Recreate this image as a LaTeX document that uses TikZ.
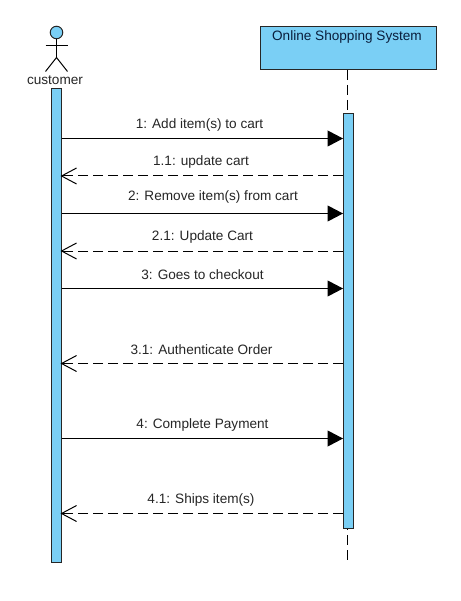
\documentclass[tikz,border=0pt]{standalone}
\usepackage{fontspec}
\setmainfont{Liberation Sans}
\usetikzlibrary{arrows.meta}
\definecolor{barblue}{HTML}{7ACFF5}
\definecolor{titlenavy}{HTML}{0A1E3C}
\tikzset{
  lbl/.style={inner sep=0pt,font=\fontsize{13.6}{15}\selectfont,text=black!85},
  activation/.style={draw=black!85,fill=barblue,line width=1pt,inner sep=0pt,minimum width=10pt},
  objbox/.style={draw=black!85,fill=barblue,line width=1pt,inner sep=0pt},
  limb/.style={draw=black,line width=1pt},
  callmsg/.style={draw=black,line width=1pt,-{Triangle[length=15.5pt,width=16pt]}},
  retmsg/.style={draw=black,line width=1pt,dash pattern=on 10pt off 5pt,shorten >=-1.5pt,-{Straight Barb[length=15pt,width=16pt,line width=1pt]}},
  lifeline/.style={draw=black,line width=1pt,dash pattern=on 10pt off 5pt},
}
\begin{document}
\begin{tikzpicture}[x=1pt,y=-1pt]
\useasboundingbox (0,0) rectangle (460,601);
\fill[white] (0,0) rectangle (460,601);
% actor
\node[circle,draw=black!85,fill=barblue,line width=1pt,minimum size=12.5pt,inner sep=0pt] (head) at (56.5,32.5) {};
\coordinate (hip) at (56.5,57.5);
\coordinate (armL) at (45.5,46);
\coordinate (armR) at (67.5,46);
\coordinate (footL) at (45.5,71.5);
\coordinate (footR) at (67.5,71.5);
\draw[limb] (head.south) -- (hip);
\draw[limb] (armL) -- (armR);
\draw[limb] (footL) -- (hip) -- (footR);
\node[lbl] (customer) at (55,80.5) {customer};
% object
\node[objbox,minimum width=176pt,minimum height=43pt] (sys) at (348.5,48) {};
\node[lbl,text=titlenavy] (systitle) at (347,36.5) {Online Shopping System};
\coordinate (lifeend) at (347.5,561);
\draw[lifeline] (sys.south -| lifeend) -- (lifeend);
% activations
\node[activation,minimum height=474pt] (cbar) at (56.5,325.3) {};
\node[activation,minimum height=415pt] (sbar) at (348.5,321) {};
% messages
\foreach \nm/\yy in {a/138.5,b/176,c/213.5,d/251,e/288.5,f/363.5,g/438.5,h/513.5}
  \coordinate (m\nm) at (200,\yy);
\draw[callmsg] (cbar.east |- ma) -- (sbar.west |- ma);
\draw[retmsg] (sbar.west |- mb) -- (cbar.east |- mb);
\draw[callmsg] (cbar.east |- mc) -- (sbar.west |- mc);
\draw[retmsg] (sbar.west |- md) -- (cbar.east |- md);
\draw[callmsg] (cbar.east |- me) -- (sbar.west |- me);
\draw[retmsg] (sbar.west |- mf) -- (cbar.east |- mf);
\draw[callmsg] (cbar.east |- mg) -- (sbar.west |- mg);
\draw[retmsg] (sbar.west |- mh) -- (cbar.east |- mh);
% labels
\node[lbl] (l1) at (199.5,124.5) {1: Add item(s) to cart};
\node[lbl] (l2) at (201,161.5) {1.1: update cart};
\node[lbl] (l3) at (213,197) {2: Remove item(s) from cart};
\node[lbl] (l4) at (202.5,236.5) {2.1: Update Cart};
\node[lbl] (l5) at (202.5,274.5) {3: Goes to checkout};
\node[lbl] (l6) at (201.5,349.5) {3.1: Authenticate Order};
\node[lbl] (l7) at (202.5,424.5) {4: Complete Payment};
\node[lbl] (l8) at (201,499.5) {4.1: Ships item(s)};
\end{tikzpicture}
\end{document}
